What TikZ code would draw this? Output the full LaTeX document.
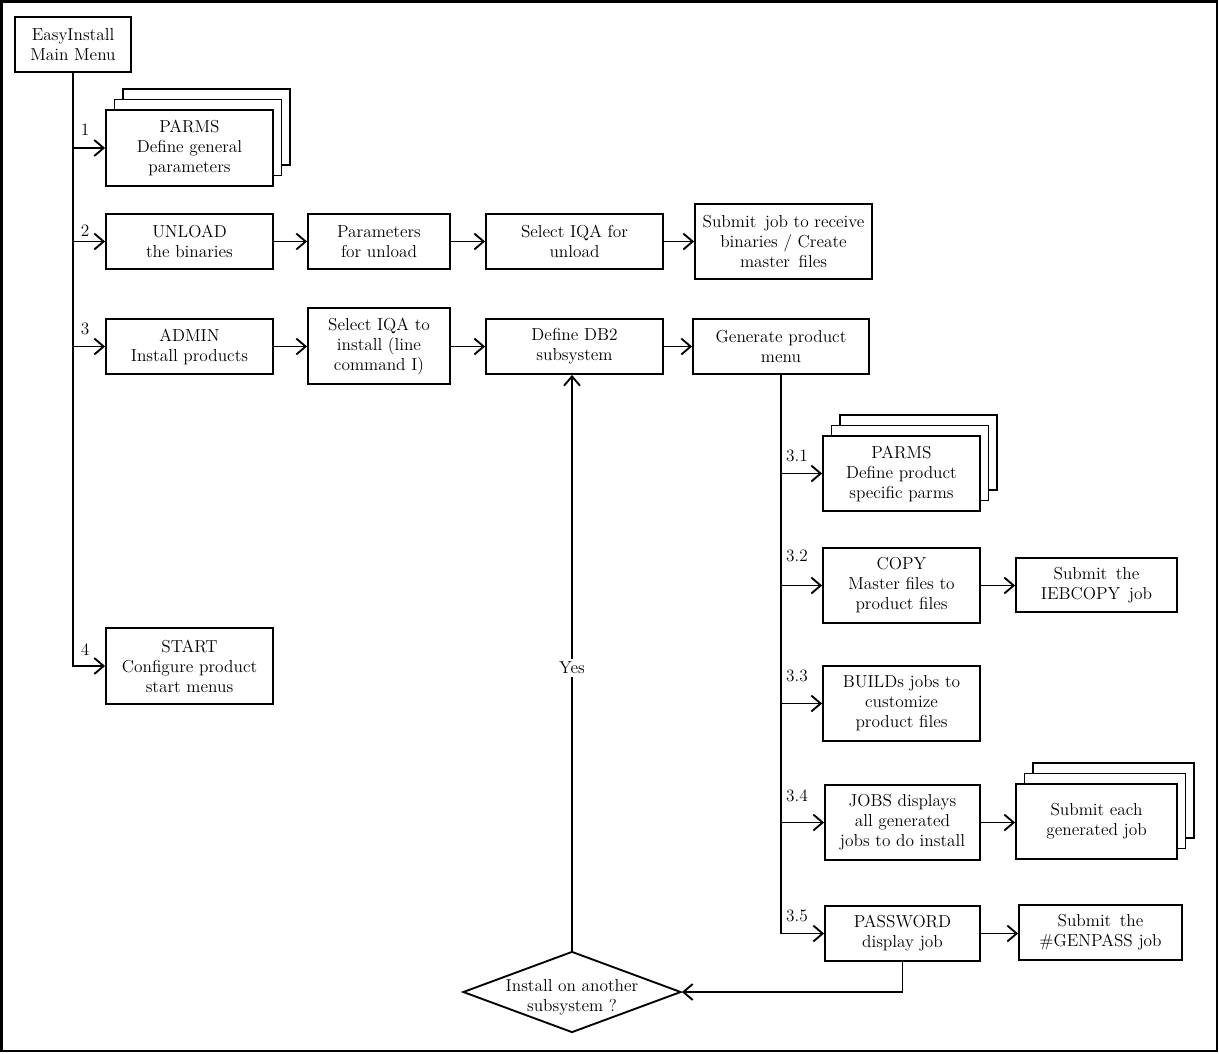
\documentclass[tikz,border=0pt]{standalone}
\usetikzlibrary{arrows.meta,shapes.geometric}
\newcommand\fs{\fontsize{13}{15}\selectfont}
\tikzset{
  box/.style={draw, line width=1.4pt, fill=white, align=center, inner sep=0pt, font=\fs},
  lbl/.style={inner sep=0pt, font=\fs},
  arr/.style={line width=1.4pt, -{Straight Barb[length=7pt,width=12pt,line width=1.4pt]}},
  dia/.style={draw, diamond, line width=1.4pt, fill=white, inner sep=0pt},
}
\newcommand\bx[6]{\node[box, minimum width={(#4-#2)*0.75pt}, minimum height={(#5-#3)*0.75pt}] (#1) at ({(#2+#4)/2},{-(#3+#5)/2}) {#6};}
\newcommand\stk[6]{%
  \node[box, minimum width={(#4-#2)*0.75pt}, minimum height={(#5-#3)*0.75pt}] (#1-c) at ({(#2+#4)/2+17},{-(#3+#5)/2+21}) {};
  \node[box, minimum width={(#4-#2)*0.75pt}, minimum height={(#5-#3)*0.75pt}] (#1-b) at ({(#2+#4)/2+8.5},{-(#3+#5)/2+10.5}) {};
  \node[box, minimum width={(#4-#2)*0.75pt}, minimum height={(#5-#3)*0.75pt}] (#1) at ({(#2+#4)/2},{-(#3+#5)/2}) {#6};}
\begin{document}
\begin{tikzpicture}[x=0.75pt,y=0.75pt]
\useasboundingbox (0,0) rectangle (1219,-1053);
\path[draw, line width=1.5pt] (1.5,-1.5) rectangle (1217,-1050.5);
% boxes
\bx{main}{15}{17}{131}{72}{EasyInstall\\Main Menu}
\stk{parms}{106}{110}{273}{186}{PARMS\\Define general\\parameters}
\bx{unload}{106}{214}{273}{269}{UNLOAD\\the binaries}
\bx{punl}{308}{214}{450}{269}{Parameters\\for unload}
\bx{sunl}{486}{214}{663}{269}{Select IQA for\\unload}
\bx{subm}{695}{204}{872}{279}{Submit\, job to receive\\binaries / Create\\master\, files}
\bx{admin}{106}{319}{273}{374}{ADMIN\\Install products}
\bx{siqa}{308}{308}{450}{384}{Select IQA to\\install (line\\command I)}
\bx{db2}{486}{319}{663}{374}{Define DB2\\subsystem}
\bx{gen}{693}{319}{869}{374}{Generate product\\menu}
\bx{start}{106}{628}{273}{704}{START\\Configure product\\start menus}
\stk{pparms}{823}{436}{980}{511}{PARMS\\Define product\\specific parms}
\bx{copy}{823}{548}{980}{623}{COPY\\Master files to\\product files}
\bx{iebc}{1016}{558}{1177}{612}{Submit\, the\\IEBCOPY\, job}
\bx{build}{823}{666}{980}{741}{BUILDs jobs to\\customize\\product files}
\bx{jobs}{825}{785}{980}{860}{JOBS displays\\all generated\\jobs to do install}
\stk{each}{1016}{784}{1177}{859}{Submit each\\generated job}
\bx{pw}{825}{906}{980}{961}{PASSWORD\\display job}
\bx{gp}{1019}{905}{1182}{960}{Submit\, the\\\#GENPASS job}
\node[dia, minimum width={218*0.75pt}, minimum height={81*0.75pt}] (dec) at (572,-992) {};
\node[lbl, align=center] (decT) at (572,-997) {Install on another\\subsystem ?};
% main trunk
\draw[arr] (main.south) |- (start.west);
\draw[arr] (main.south |- parms.west) -- (parms.west);
\draw[arr] (main.south |- unload.west) -- (unload.west);
\draw[arr] (main.south |- admin.west) -- (admin.west);
\node[lbl] (l1) at (85,-130) {1};
\node[lbl] (l2) at (85,-231) {2};
\node[lbl] (l3) at (85,-329) {3};
\node[lbl] (l4) at (85,-650) {4};
% rows
\draw[arr] (unload.east) -- (unload.east -| punl.west);
\draw[arr] (punl.east) -- (punl.east -| sunl.west);
\draw[arr] (sunl.east) -- (sunl.east -| subm.west);
\draw[arr] (admin.east) -- (admin.east -| siqa.west);
\draw[arr] (db2.west -| siqa.east) -- (db2.west);
\draw[arr] (db2.east) -- (db2.east -| gen.west);
% product trunk
\draw[arr] (gen.south) |- (pw.west);
\draw[arr] (gen.south |- pparms.west) -- (pparms.west);
\draw[arr] (gen.south |- copy.west) -- (copy.west);
\draw[arr] (gen.south |- build.west) -- (build.west);
\draw[arr] (gen.south |- jobs.west) -- (jobs.west);
\node[lbl] (l31) at (797,-456) {3.1};
\node[lbl] (l32) at (797,-556) {3.2};
\node[lbl] (l33) at (797,-676) {3.3};
\node[lbl] (l34) at (797,-796) {3.4};
\node[lbl] (l35) at (797,-916) {3.5};
\draw[arr] (copy.east) -- (copy.east -| iebc.west);
\draw[arr] (jobs.east) -- (jobs.east -| each.west);
\draw[arr] (pw.east) -- (pw.east -| gp.west);
% loop back
\draw[arr] (pw.south) |- (dec.east);
\draw[arr] (dec.north) -- (dec.north |- db2.south);
\node[lbl, fill=white, inner sep=2pt] (yes) at (572,-668) {Yes};
\end{tikzpicture}
\end{document}
